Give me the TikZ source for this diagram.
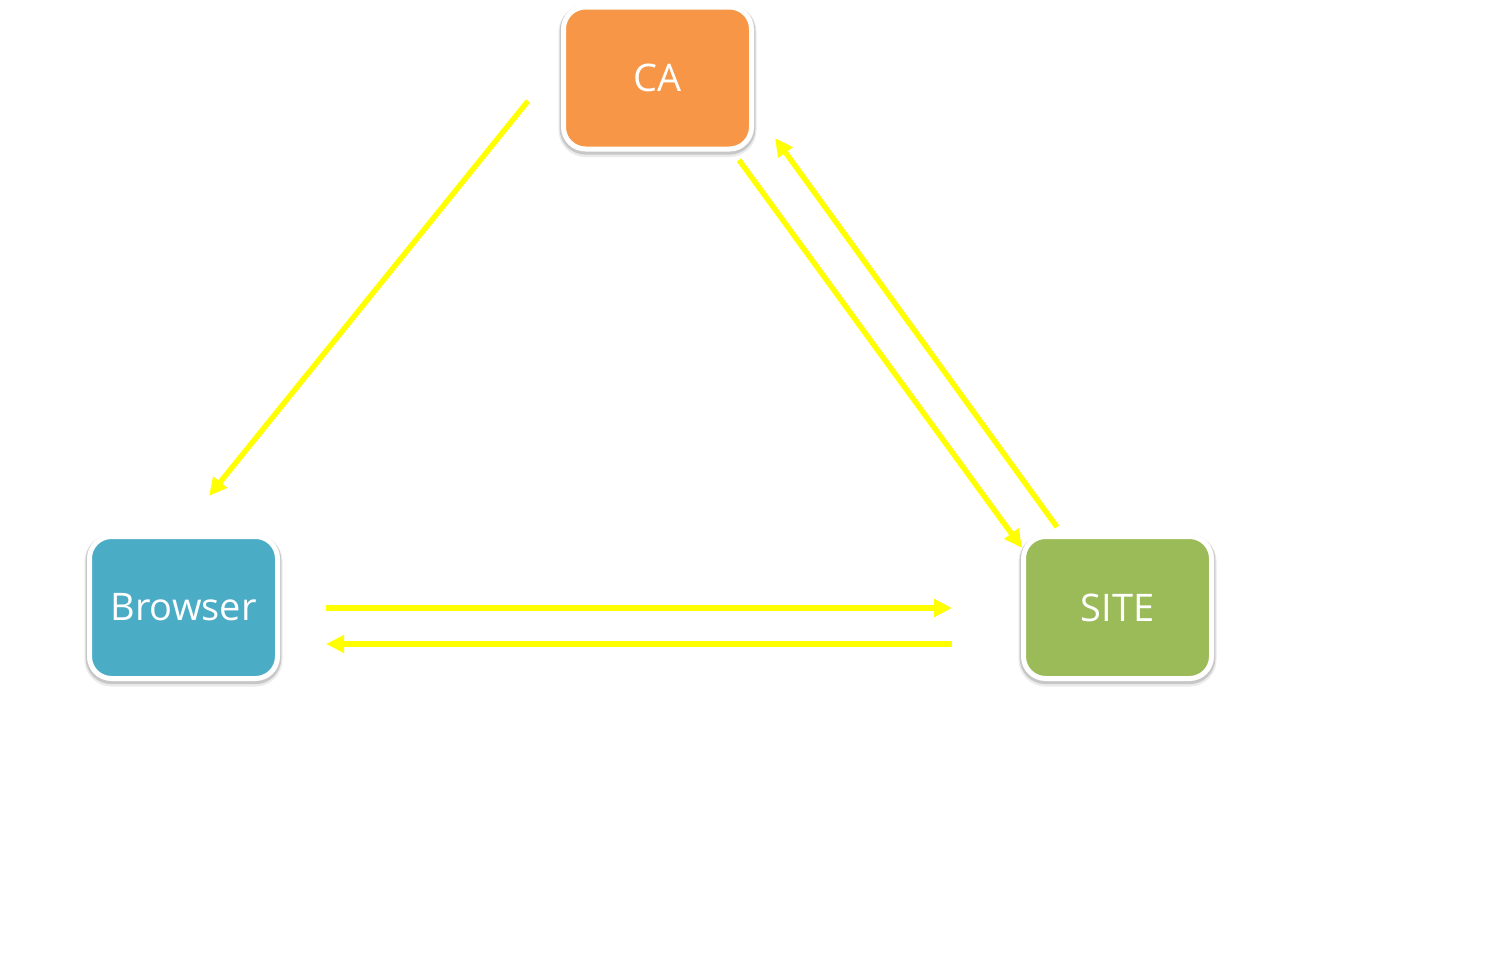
\documentclass[tikz,border=0pt]{standalone}
\usepackage{fontspec}
\setmainfont{Open Sans}
\usetikzlibrary{arrows.meta,calc}
\definecolor{caorange}{HTML}{F79646}
\definecolor{brblue}{HTML}{4BACC6}
\definecolor{sitegreen}{HTML}{9BBB59}
\definecolor{arrowyellow}{HTML}{FFFF00}
\tikzset{
  entity/.style={draw=white, line width=2.5pt, rounded corners=11pt,
    minimum width=94pt, minimum height=71pt, inner sep=0pt,
    text=white, font=\fontsize{19}{22}\selectfont,
    preaction={draw=black!8, line width=5pt, transform canvas={yshift=-1.5pt}},
    preaction={draw=black!22, line width=3.8pt, transform canvas={yshift=-0.9pt}}},
  flow/.style={draw=arrowyellow, line width=2.7pt,
    -{Triangle[length=9pt,width=8.5pt]}}
}
\begin{document}
\begin{tikzpicture}[x=0.5pt,y=-0.5pt]
\useasboundingbox[fill=white] (0,0) rectangle (1489,980);
\node[entity, fill=caorange] (CA) at (657.5,78) {CA};
\node[entity, fill=brblue] (Browser) at (183.5,607.5) {Browser};
\node[entity, fill=sitegreen] (SITE) at (1117.5,607.5) {SITE};
\draw[flow] ($(CA)+(-129.5,23)$) -- ($(Browser)+(25.5,-111.5)$);
\draw[flow] ($(CA)+(81.5,82)$) -- ($(SITE)+(-95.5,-59.5)$);
\draw[flow] ($(SITE)+(-60.5,-80.5)$) -- ($(CA)+(117.5,60)$);
\draw[flow] ($(Browser)+(142.5,0.5)$) -- ($(SITE)+(-165.5,0.5)$);
\draw[flow] ($(SITE)+(-165.5,36.5)$) -- ($(Browser)+(142.5,36.5)$);
\end{tikzpicture}
\end{document}
